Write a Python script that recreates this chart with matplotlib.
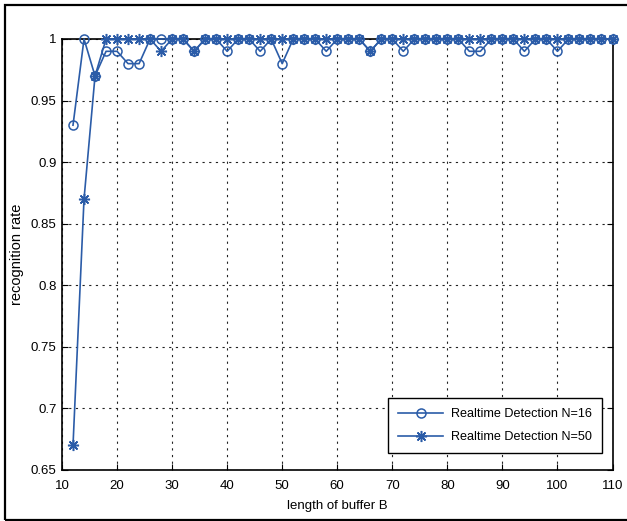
import numpy as np
import matplotlib
matplotlib.use('Agg')
import matplotlib.pyplot as plt
from matplotlib.patches import Rectangle

plt.rcParams['font.family'] = ['Liberation Sans', 'DejaVu Sans']

# buffer lengths and recognition rates for the two detectors
buffer_len = list(range(12, 111, 2))

rate_n16 = [0.93, 1.00, 0.97, 0.99, 0.99, 0.98, 0.98, 1.00, 1.00, 1.00,
            1.00, 0.99, 1.00, 1.00, 0.99, 1.00, 1.00, 0.99, 1.00, 0.98,
            1.00, 1.00, 1.00, 0.99, 1.00, 1.00, 1.00, 0.99, 1.00, 1.00,
            0.99, 1.00, 1.00, 1.00, 1.00, 1.00, 0.99, 0.99, 1.00, 1.00,
            1.00, 0.99, 1.00, 1.00, 0.99, 1.00, 1.00, 1.00, 1.00, 1.00]

rate_n50 = [0.67, 0.87, 0.97, 1.00, 1.00, 1.00, 1.00, 1.00, 0.99, 1.00,
            1.00, 0.99, 1.00, 1.00, 1.00, 1.00, 1.00, 1.00, 1.00, 1.00,
            1.00, 1.00, 1.00, 1.00, 1.00, 1.00, 1.00, 0.99, 1.00, 1.00,
            1.00, 1.00, 1.00, 1.00, 1.00, 1.00, 1.00, 1.00, 1.00, 1.00,
            1.00, 1.00, 1.00, 1.00, 1.00, 1.00, 1.00, 1.00, 1.00, 1.00]

labels = ['Realtime Detection N=16', 'Realtime Detection N=50']
xticks = list(range(10, 111, 10))
yticks = [0.65, 0.7, 0.75, 0.8, 0.85, 0.9, 0.95, 1.0]
ytick_labels = ['0.65', '0.7', '0.75', '0.8', '0.85', '0.9', '0.95', '1']

blue = '#2b5ca8'
asterisk = (8, 2, 0)

fig = plt.figure(figsize=(6.27, 5.21), dpi=100)
ax = fig.add_axes([62 / 627, 1 - 470 / 521, 550.5 / 627, 431 / 521])

ax.plot(buffer_len, rate_n16, color=blue, lw=1.2, marker='o', ms=6.5,
        mfc='none', mec=blue, mew=1.1, label=labels[0], clip_on=False,
        zorder=3)
ax.plot(buffer_len, rate_n50, color=blue, lw=1.2, marker=asterisk, ms=8,
        mec=blue, mew=1.1, label=labels[1], clip_on=False, zorder=3)

ax.set_xlim(10, 110)
ax.set_ylim(0.65, 1.0)
ax.set_xticks(xticks)
ax.set_yticks(yticks)
ax.set_yticklabels(ytick_labels)
ax.tick_params(direction='in', length=4, width=0.8, top=True, right=True,
               labelsize=9.5, colors='black')
ax.tick_params(axis='x', pad=7)
ax.tick_params(axis='y', pad=4)
ax.grid(True, color='#222222', lw=0.8, ls=(0, (2, 4)))
for s in ax.spines.values():
    s.set_linewidth(1.2)
    s.set_color('black')
    s.set_zorder(2.5)

ax.set_xlabel('length of buffer B', fontsize=9.5, labelpad=6)
ax.set_ylabel('recognition rate', fontsize=10.5, labelpad=5)

leg = ax.legend(loc='lower right', bbox_to_anchor=(0.981, 0.039),
                borderaxespad=0, fancybox=False, edgecolor='black',
                framealpha=1, fontsize=9.1, handlelength=3.6,
                handletextpad=0.6, labelspacing=0.85, borderpad=0.8)
leg.get_frame().set_linewidth(1.0)
leg.set_zorder(5)

# outer border around the whole figure
fig.patches.append(Rectangle((5 / 627, 1.5 / 521), 1.2, 1 - 6.5 / 521,
                             transform=fig.transFigure, fill=False,
                             edgecolor='black', lw=1.6))

fig.savefig('out.png', dpi=100)
